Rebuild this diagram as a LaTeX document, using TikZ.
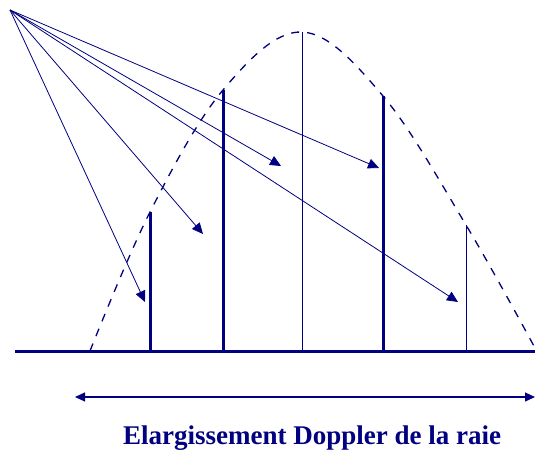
\documentclass[tikz,border=0pt]{standalone}
\usepackage{fontspec}
\setmainfont{Liberation Serif}
\usetikzlibrary{arrows.meta}
\definecolor{navy}{RGB}{0,0,128}
\tikzset{
  ray/.style={draw=navy, line width=0.8pt, -{Triangle[length=11pt,width=10pt]}},
  thickline/.style={draw=navy, line width=3pt},
  thinline/.style={draw=navy, line width=1pt},
  profile/.style={draw=navy, line width=1.3pt, dash pattern=on 8pt off 8pt},
  label/.style={text=navy, font=\bfseries\fontsize{27}{27}\selectfont, inner sep=0pt}
}
\begin{document}
\begin{tikzpicture}[x=1pt,y=-1pt]
\useasboundingbox (0,0) rectangle (535,452);
% base line
\coordinate (bl) at (15,351);
\coordinate (br) at (535,351);
\draw[thickline] (bl) -- (br);
% profile
\draw[profile] plot[smooth, tension=0.6] coordinates {(90,351) (150,212) (223,90) (302,32) (383,96) (466,225) (535,348)};
% vertical lines
\coordinate (b1) at (150,351); \coordinate (t1) at (150,212);
\coordinate (b2) at (223,351); \coordinate (t2) at (223,90);
\coordinate (b3) at (302,351); \coordinate (t3) at (302,32);
\coordinate (b4) at (383,351); \coordinate (t4) at (383,96);
\coordinate (b5) at (466,351); \coordinate (t5) at (466,225);
\draw[thickline] (b1) -- (t1);
\draw[thickline] (b2) -- (t2);
\draw[thinline] (b3) -- (t3);
\draw[thickline] (b4) -- (t4);
\draw[thinline] (b5) -- (t5);
% rays
\coordinate (src) at (10,10);
\coordinate (a1) at (145,302);
\coordinate (a2) at (203,234);
\coordinate (a3) at (281,166);
\coordinate (a4) at (379,168);
\coordinate (a5) at (458,302);
\draw[ray] (src) -- (a1);
\draw[ray] (src) -- (a2);
\draw[ray] (src) -- (a3);
\draw[ray] (src) -- (a4);
\draw[ray] (src) -- (a5);
% width arrow
\coordinate (wl) at (75,397);
\coordinate (wr) at (535,397);
\draw[draw=navy, line width=1.2pt, {Triangle[length=10pt,width=9pt]}-{Triangle[length=10pt,width=9pt]}] (wl) -- (wr);
% label
\node[label, anchor=base] (lab) at (312,444) {Elargissement Doppler de la raie};
\end{tikzpicture}
\end{document}
